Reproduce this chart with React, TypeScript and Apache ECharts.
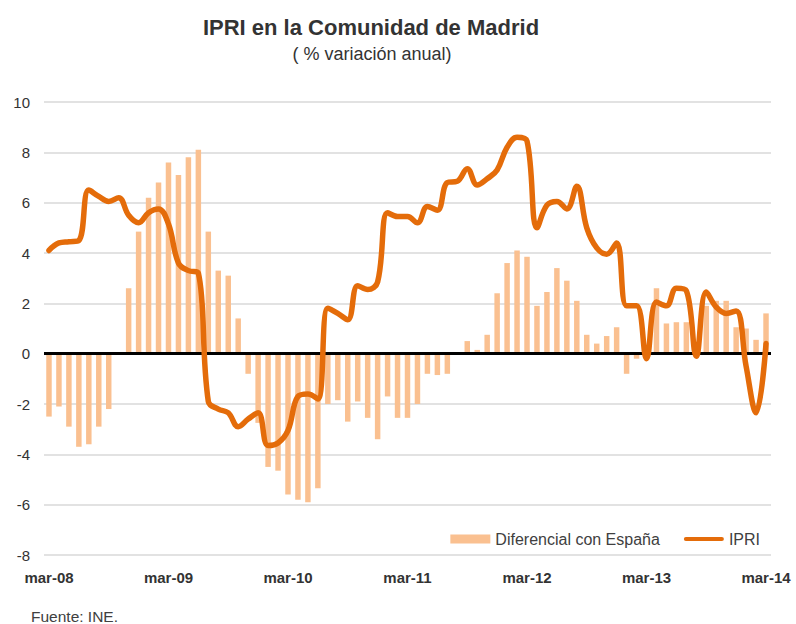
import React, { useEffect, useRef } from "react";
import * as echarts from "echarts";

const years = ["08", "09", "10", "11", "12", "13", "14"];
const monthNames = ["mar", "abr", "may", "jun", "jul", "ago", "sep", "oct", "nov", "dic", "ene", "feb"];

const categories: string[] = [];
for (let y = 0; y < 7; y++) {
  for (let m = 0; m < 12; m++) {
    if (y === 6 && m > 0) break;
    const yy = m >= 10 ? years[y + 1] : years[y];
    categories.push(monthNames[m] + "-" + yy);
  }
}

const diferencial = [
  -2.5, -2.1, -2.9, -3.7, -3.6, -2.9, -2.2, 0, 2.6, 4.85, 6.2, 6.8,
  7.6, 7.1, 7.8, 8.1, 4.85, 3.3, 3.1, 1.4, -0.8, -2.75, -4.5, -4.65,
  -5.6, -5.8, -5.9, -5.35, -2.0, -1.85, -2.7, -1.9, -2.55, -3.4, -1.7, -2.55,
  -2.55, -2.0, -0.8, -0.85, -0.8, 0, 0.5, 0.15, 0.75, 2.4, 3.6, 4.1,
  3.85, 1.9, 2.45, 3.4, 2.9, 2.1, 0.75, 0.4, 0.7, 1.05, -0.8, -0.2,
  0.2, 2.6, 1.2, 1.25, 1.25, 0.3, 1.9, 2.1, 2.1, 1.05, 1.0, 0.55,
  1.6,
];

const ipri = [
  4.1, 4.4, 4.45, 4.5, 6.5, 6.25, 6.05, 6.2, 5.5, 5.2, 5.6, 5.75,
  5.15, 3.6, 3.3, 3.2, -1.9, -2.2, -2.35, -2.9, -2.6, -2.35, -3.65, -3.55,
  -3.05, -1.7, -1.6, -1.8, 1.8, 1.6, 1.35, 2.7, 2.55, 2.85, 5.6, 5.45,
  5.45, 5.2, 5.85, 5.7, 6.8, 6.85, 7.35, 6.7, 6.95, 7.3, 8.2, 8.6,
  8.45, 5.0, 5.9, 6.05, 5.75, 6.65, 5.0, 4.2, 3.95, 4.4, 1.9, 1.9,
  -0.2, 2.05, 1.9, 2.6, 2.5, -0.1, 2.45, 1.85, 1.6, 1.7, -0.5, -2.35,
  0.4,
];

const yTicks = { min: -8, max: 10, interval: 2 };

const titleText = "IPRI en la Comunidad de Madrid";
const subtitleText = "( % variación anual)";
const sourceText = "Fuente: INE.";

const FONT = "'Liberation Sans', Arial, Helvetica, sans-serif";
const LINE_ICON = "path://M2,0 L38,0 A2,2 0 0 1 38,4 L2,4 A2,2 0 0 1 2,0 Z";

export default function App() {
  const ref = useRef<HTMLDivElement>(null);

  useEffect(() => {
    if (!ref.current) return;
    const chart = echarts.init(ref.current, undefined, { renderer: "svg" });
    chart.setOption({
      animation: false,
      backgroundColor: "#ffffff",
      textStyle: { fontFamily: FONT },
      graphic: [
        {
          type: "text",
          x: 371,
          y: 27,
          style: {
            text: titleText,
            fontFamily: FONT,
            fontSize: 22,
            fontWeight: "bold",
            fill: "#333333",
            align: "center",
            verticalAlign: "middle",
          },
        },
        {
          type: "text",
          x: 372,
          y: 54,
          style: {
            text: subtitleText,
            fontFamily: FONT,
            fontSize: 18,
            fill: "#333333",
            align: "center",
            verticalAlign: "middle",
          },
        },
        {
          type: "text",
          x: 31,
          y: 616,
          style: {
            text: sourceText,
            fontFamily: FONT,
            fontSize: 15.5,
            fill: "#404040",
            align: "left",
            verticalAlign: "middle",
          },
        },
      ],
      legend: {
        right: 31,
        top: 526,
        itemWidth: 40,
        itemHeight: 9,
        itemGap: 24,
        textStyle: { fontFamily: FONT, fontSize: 16, color: "#404040" },
        data: [
          { name: "Diferencial con España", icon: "rect" },
          { name: "IPRI", icon: LINE_ICON },
        ],
      },
      grid: { left: 44, right: 25, top: 102, bottom: 69, containLabel: false },
      xAxis: {
        type: "category",
        data: categories,
        boundaryGap: true,
        axisLine: { show: false },
        axisTick: { show: false },
        axisLabel: {
          interval: 11,
          margin: 15,
          fontFamily: FONT,
          fontSize: 15,
          fontWeight: "bold",
          color: "#333333",
        },
        splitLine: { show: false },
      },
      yAxis: {
        type: "value",
        min: yTicks.min,
        max: yTicks.max,
        interval: yTicks.interval,
        axisLine: { show: false },
        axisTick: { show: false },
        axisLabel: {
          margin: 14,
          fontFamily: FONT,
          fontSize: 15,
          color: "#333333",
        },
        splitLine: { lineStyle: { color: "#d9d9d9", width: 1.5 } },
      },
      series: [
        {
          name: "Diferencial con España",
          type: "bar",
          data: diferencial,
          barWidth: "55%",
          itemStyle: { color: "#FAC090" },
          z: 2,
          markLine: {
            silent: true,
            symbol: "none",
            label: { show: false },
            lineStyle: { color: "#000000", width: 3, type: "solid" },
            data: [{ yAxis: 0 }],
          },
        },
        {
          name: "IPRI",
          type: "line",
          data: ipri,
          smooth: 0.4,
          symbol: "none",
          lineStyle: { color: "#E46C0A", width: 5.5, cap: "round", join: "round" },
          itemStyle: { color: "#E46C0A" },
          z: 5,
        },
      ],
    });
    return () => chart.dispose();
  }, []);

  return (
    <div
      ref={ref}
      style={{ position: "fixed", left: 0, top: 0, width: 796, height: 624 }}
    />
  );
}
